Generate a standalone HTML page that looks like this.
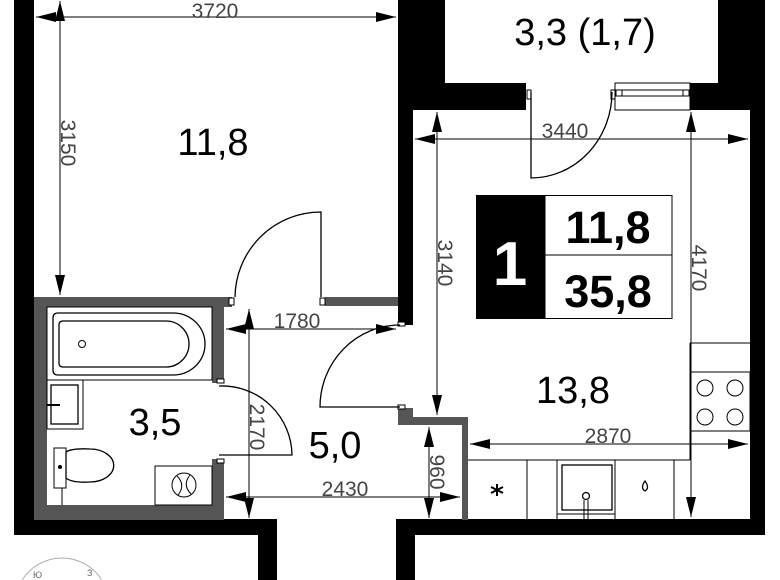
<!DOCTYPE html>
<html><head><meta charset="utf-8"><style>html,body{margin:0;padding:0;background:#fff;width:780px;height:580px;overflow:hidden}svg{display:block;overflow:hidden}</style></head>
<body>
<svg width="780" height="580" viewBox="0 0 780 580" xmlns="http://www.w3.org/2000/svg" font-family="Liberation Sans, DejaVu Sans, sans-serif">
<defs>
<marker id="b" viewBox="0 0 20 10" refX="20" refY="5" markerWidth="20" markerHeight="10" markerUnits="userSpaceOnUse" orient="auto-start-reverse"><path d="M0,0 L20,5 L0,10 z" fill="#000"/></marker>
</defs>
<rect width="780" height="580" fill="#fff"/>
<path d="M22.5,579.5 A47,47 0 0 1 101.5,579.5" fill="none" stroke="#aaa" stroke-width="1"/>
<text x="33" y="578" font-size="9" fill="#666">Ю</text><text x="87" y="576" font-size="9" fill="#666">З</text>
<g fill="#000">
<rect x="14" y="0" width="20" height="535"/>
<rect x="14" y="519" width="263" height="16"/>
<rect x="258" y="519" width="19" height="61"/>
<rect x="396" y="519" width="369" height="16"/>
<rect x="396" y="519" width="19" height="61"/>
<rect x="398" y="0" width="47" height="110"/>
<rect x="398" y="0" width="15" height="325"/>
<rect x="445" y="83" width="81" height="27"/>
<rect x="718" y="0" width="47" height="110"/>
<rect x="690" y="83" width="28" height="27"/>
<rect x="750" y="100" width="15" height="435"/>
</g>
<g fill="#555">
<rect x="34" y="297" width="198" height="10"/>
<rect x="325" y="297" width="73" height="9"/>
<rect x="34" y="297" width="13" height="223"/>
<rect x="34" y="505" width="190" height="15"/>
<rect x="212" y="297" width="12" height="86"/>
<rect x="212" y="459" width="12" height="61"/>
<rect x="398" y="417" width="70" height="8"/>
<rect x="462" y="417" width="6" height="103"/>
<rect x="398" y="408" width="15" height="9"/>
</g>
<g fill="#fff" stroke="#000" stroke-width="1">
<rect x="615" y="83" width="75" height="27"/>
<rect x="616" y="90" width="73" height="6"/>
<line x1="622" y1="90" x2="622" y2="96"/><line x1="683" y1="90" x2="683" y2="96"/>
</g>
<g fill="#fff" stroke="#000" stroke-width="1">
<rect x="527" y="90" width="4" height="9"/><rect x="611" y="90" width="4" height="9"/>
<rect x="229" y="298" width="5" height="7"/><rect x="320" y="298" width="5" height="7"/>
<rect x="217" y="379" width="7" height="4"/><rect x="217" y="459" width="7" height="4"/>
<rect x="398" y="322" width="7" height="4"/><rect x="398" y="405" width="7" height="4"/>
</g>
<g fill="none" stroke="#000" stroke-width="1.3">
<path d="M531,92 V178 A81,86 0 0 0 612,92"/>
<path d="M321,297 V212 A86,86 0 0 0 235,297"/>
<path d="M219,386 A70,70 0 0 1 292,455 H219"/>
<path d="M400,325 A80,82 0 0 0 320,407 H400"/>
</g>
<g fill="none" stroke="#000" stroke-width="1">
<rect x="47" y="307" width="165" height="73"/>
<path d="M58,313 H173 A32,31 0 0 1 173,375 H58 Q53,375 53,370 V318 Q53,313 58,313 z" stroke-width="1.3"/>
<path d="M63,321 H166 A23,23 0 0 1 166,367 H63 Q59,367 59,363 V325 Q59,321 63,321 z" stroke-width="1.3"/>
<circle cx="82" cy="344" r="3.5"/>
<rect x="47" y="380" width="36" height="49"/>
<rect x="51" y="385" width="27" height="39" stroke-width="1.3"/>
<line x1="47" y1="405" x2="60" y2="405" stroke-width="2"/>
<rect x="54" y="448" width="12" height="40"/>
<line x1="62" y1="488" x2="62" y2="505"/>
<path d="M66,452 Q72,448 90,449 A23,16 0 0 1 90,482 Q72,483 66,478 z" stroke-width="1.3"/>
<circle cx="60" cy="467" r="1.5" fill="#000"/>
<rect x="155" y="466" width="57" height="39"/>
<circle cx="184" cy="485" r="12"/>
<path d="M177,476 Q186,485 178,495 M190,475 Q182,485 191,494"/>
</g>
<g fill="none" stroke="#000" stroke-width="1">
<line x1="690" y1="343" x2="750" y2="343"/>
<rect x="690" y="372" width="60" height="59"/>
<circle cx="705" cy="388" r="8"/><circle cx="735" cy="388" r="8"/>
<circle cx="705" cy="417" r="8"/><circle cx="735" cy="417" r="8"/>
<line x1="468" y1="460" x2="690" y2="460"/>
<line x1="690" y1="343" x2="690" y2="460"/>
<line x1="527" y1="460" x2="527" y2="520"/><line x1="557" y1="460" x2="557" y2="520"/>
<line x1="615" y1="460" x2="615" y2="520"/><line x1="674" y1="460" x2="674" y2="520"/>
<rect x="562" y="465" width="50" height="45" stroke-width="1.3"/>
<line x1="557" y1="514" x2="615" y2="514"/>
<circle cx="586" cy="496" r="3.5" stroke-width="1.3"/>
<line x1="584" y1="500" x2="584" y2="519"/><line x1="588" y1="500" x2="588" y2="519"/>
<path d="M645,481 Q640,488 645,491 Q650,488 645,481 z" stroke-width="1.3"/>
<path d="M497,484 V496 M491,487 L503,493 M491,493 L503,487" stroke-width="2"/>
</g>
<g stroke="#000" stroke-width="1" fill="none">
<line x1="36" y1="17" x2="396" y2="17" marker-start="url(#b)" marker-end="url(#b)"/>
<line x1="60" y1="1" x2="60" y2="295" marker-start="url(#b)" marker-end="url(#b)"/>
<line x1="415" y1="139" x2="748" y2="139" marker-start="url(#b)" marker-end="url(#b)"/>
<line x1="437" y1="112" x2="437" y2="415" marker-start="url(#b)" marker-end="url(#b)"/>
<line x1="691" y1="112" x2="691" y2="517" marker-start="url(#b)" marker-end="url(#b)"/>
<line x1="226" y1="329" x2="396" y2="329" marker-start="url(#b)" marker-end="url(#b)"/>
<line x1="249" y1="309" x2="249" y2="518" marker-start="url(#b)" marker-end="url(#b)"/>
<line x1="226" y1="497" x2="460" y2="497" marker-start="url(#b)" marker-end="url(#b)"/>
<line x1="429" y1="427" x2="429" y2="518" marker-start="url(#b)" marker-end="url(#b)"/>
<line x1="470" y1="444" x2="748" y2="444" marker-start="url(#b)" marker-end="url(#b)"/>
</g>
<g font-size="21" fill="#444" text-anchor="middle">
<text x="215" y="18">3720</text>
<text x="565" y="138">3440</text>
<text x="297" y="328">1780</text>
<text x="345" y="496">2430</text>
<text x="608" y="443">2870</text>
<text transform="translate(61,143) rotate(90)">3150</text>
<text transform="translate(438,263) rotate(90)">3140</text>
<text transform="translate(692,268) rotate(90)">4170</text>
<text transform="translate(250,427) rotate(90)">2170</text>
<text transform="translate(430,472) rotate(90)">960</text>
</g>
<g font-size="38" fill="#000" text-anchor="middle">
<text x="213" y="155">11,8</text>
<text x="585" y="45">3,3 (1,7)</text>
<text x="155" y="435">3,5</text>
<text x="335" y="458">5,0</text>
<text x="573" y="403">13,8</text>
</g>
<rect x="476" y="195" width="69" height="124" fill="#000"/>
<rect x="545" y="195.5" width="127" height="123" fill="#fff" stroke="#000" stroke-width="1"/>
<line x1="545" y1="255" x2="672" y2="255" stroke="#000" stroke-width="1"/>
<text x="510" y="285" font-size="62" font-weight="bold" fill="#fff" text-anchor="middle">1</text>
<text x="608" y="243" font-size="45" font-weight="bold" text-anchor="middle">11,8</text>
<text x="608" y="307" font-size="45" font-weight="bold" text-anchor="middle">35,8</text>
</svg>
</body></html>
